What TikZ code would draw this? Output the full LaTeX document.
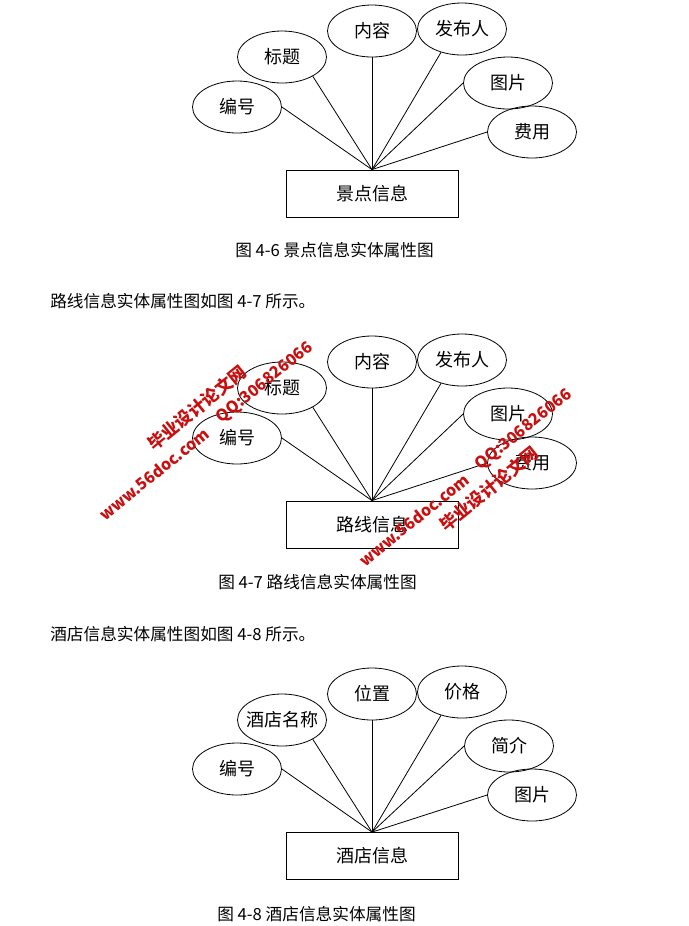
\documentclass[tikz,border=0pt]{standalone}
\usepackage{fontspec}
\setmainfont{Noto Sans CJK SC}
\usepackage{tikz}
\usetikzlibrary{shapes.geometric}

\definecolor{wmred}{RGB}{200,16,16}

\begin{document}
\begin{tikzpicture}[
  x=0.75pt, y=-0.75pt,
  attr/.style={draw, ellipse, line width=0.6pt, minimum width=66.75pt, minimum height=39pt, inner xsep=-8pt, inner ysep=0pt, font=\fontsize{13.5}{15}\selectfont},
  ent/.style={draw, line width=0.6pt, minimum width=129pt, minimum height=35.25pt, font=\fontsize{13.5}{15}\selectfont},
  link/.style={line width=0.6pt},
  txt/.style={anchor=west, inner sep=0pt, font=\fontsize{12.5}{14}\selectfont},
  wm/.style={rotate=39, text=wmred, inner sep=0pt, font=\fontsize{13}{15}\selectfont\bfseries},
  wmurl/.style={wm, font=\fontsize{12}{14}\selectfont\bfseries}
]
\path[fill=white] (0,0) rectangle (689,926);
\useasboundingbox (0,0) rectangle (689,926);

% 4-6
\node[ent] (jd) at (372,193.5) {景点信息};
\node[attr] (jd-bh) at (237,107) {编号};
\node[attr] (jd-bt) at (282,57) {标题};
\node[attr] (jd-nr) at (372,31) {内容};
\node[attr] (jd-fb) at (462,29) {发布人};
\node[attr] (jd-tp) at (508,83) {图片};
\node[attr] (jd-fy) at (532,132) {费用};
\foreach \a in {bh.east, bt.-32, nr.south, fb.228, tp.west, fy.west}
  \draw[link] (jd.north) -- (jd-\a);
\node[txt] (cap6) at (235,250) {图 4-6 景点信息实体属性图};

\node[txt] (par7) at (50,301) {路线信息实体属性图如图 4-7 所示。};

% 4-7
\node[ent] (lx) at (372,524.5) {路线信息};
\node[attr] (lx-bh) at (237,438) {编号};
\node[attr] (lx-bt) at (282,388) {标题};
\node[attr] (lx-nr) at (372,362) {内容};
\node[attr] (lx-fb) at (462,360) {发布人};
\node[attr] (lx-tp) at (508,414) {图片};
\node[attr] (lx-fy) at (532,463) {费用};
\foreach \a in {bh.east, bt.-32, nr.south, fb.228, tp.west, fy.west}
  \draw[link] (lx.north) -- (lx-\a);
\node[txt] (cap7) at (218,582) {图 4-7 路线信息实体属性图};

\node[txt] (par8) at (50,634) {酒店信息实体属性图如图 4-8 所示。};

% 4-8
\node[ent] (jdn) at (372,856) {酒店信息};
\node[attr] (jdn-bh) at (237,769) {编号};
\node[attr] (jdn-mc) at (282,720) {酒店名称};
\node[attr] (jdn-wz) at (372,694) {位置};
\node[attr] (jdn-jg) at (462,692) {价格};
\node[attr] (jdn-jj) at (509,746) {简介};
\node[attr] (jdn-tp) at (532,795) {图片};
\foreach \a in {bh.east, mc.-32, wz.south, jg.228, jj.west, tp.west}
  \draw[link] (jdn.north) -- (jdn-\a);
\node[txt] (cap8) at (217,914) {图 4-8 酒店信息实体属性图};

% watermarks
\node[wm] (wm1a) at (197,408) {毕业设计论文网};
\node[wmurl] (wm1b) at (154,474) {www.56doc.com};
\node[wmurl] (wm1c) at (265,383) {QQ:306826066};
\node[wmurl] (wm2a) at (414,520) {www.56doc.com};
\node[wmurl] (wm2b) at (524,430) {QQ:306826066};
\node[wm] (wm2c) at (489,489) {毕业设计论文网};
\end{tikzpicture}
\end{document}
